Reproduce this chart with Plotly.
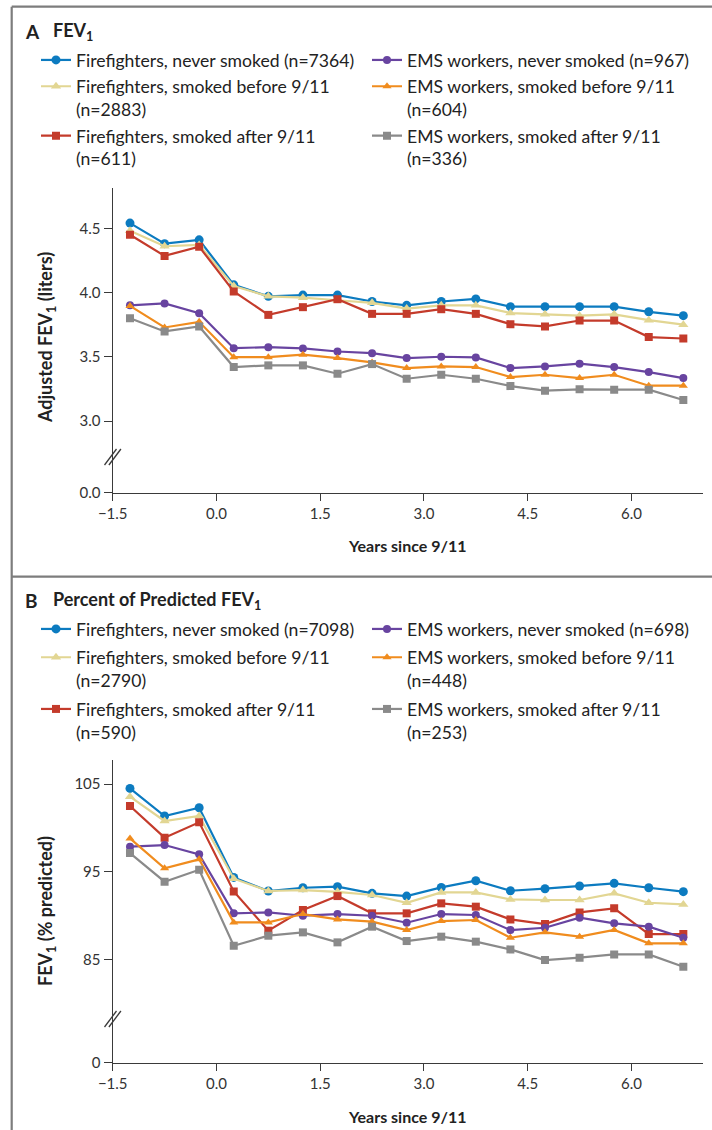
import plotly.graph_objects as go

W, H = 712, 1130
FONT = "Lato, 'Open Sans', 'DejaVu Sans', sans-serif"

def xp(px):
    return px / W

def yp(py):
    return 1 - py / H

# ---------------- data ----------------
years = [-1.25, -0.75, -0.25, 0.25, 0.75, 1.25, 1.75, 2.25, 2.75,
         3.25, 3.75, 4.25, 4.75, 5.25, 5.75, 6.25, 6.75]

series_names = ["Firefighters, never smoked",
                "Firefighters, smoked before 9/11",
                "Firefighters, smoked after 9/11",
                "EMS workers, never smoked",
                "EMS workers, smoked before 9/11",
                "EMS workers, smoked after 9/11"]

n_a = [7364, 2883, 611, 967, 604, 336]
n_b = [7098, 2790, 590, 698, 448, 253]

# Panel A: adjusted FEV1 (liters)
fev_ff_never = [4.54, 4.38, 4.41, 4.06, 3.97, 3.98, 3.98, 3.93, 3.90, 3.93, 3.95, 3.89, 3.89, 3.89, 3.89, 3.85, 3.82]
fev_ff_before = [4.48, 4.36, 4.37, 4.05, 3.97, 3.96, 3.94, 3.92, 3.875, 3.90, 3.90, 3.84, 3.83, 3.82, 3.83, 3.785, 3.75]
fev_ff_after = [4.45, 4.285, 4.357, 4.008, 3.826, 3.886, 3.948, 3.834, 3.834, 3.87, 3.834, 3.754, 3.736, 3.782, 3.782, 3.653, 3.642]
fev_ems_never = [3.90, 3.915, 3.839, 3.567, 3.575, 3.565, 3.541, 3.528, 3.49, 3.50, 3.495, 3.412, 3.425, 3.446, 3.42, 3.381, 3.334]
fev_ems_before = [3.896, 3.728, 3.772, 3.497, 3.497, 3.516, 3.49, 3.456, 3.412, 3.425, 3.42, 3.342, 3.36, 3.334, 3.36, 3.275, 3.275]
fev_ems_after = [3.80, 3.697, 3.736, 3.42, 3.433, 3.433, 3.368, 3.443, 3.329, 3.36, 3.329, 3.272, 3.236, 3.247, 3.244, 3.244, 3.163]

# Panel B: percent of predicted FEV1
pct_ff_never = [104.5, 101.35, 102.3, 94.35, 92.8, 93.17, 93.29, 92.53, 92.22, 93.21, 93.97, 92.83, 93.06, 93.37, 93.67, 93.17, 92.72]
pct_ff_before = [103.56, 100.78, 101.35, 94.2, 92.8, 92.9, 92.7, 92.34, 91.46, 92.64, 92.64, 91.84, 91.77, 91.77, 92.53, 91.46, 91.27]
pct_ff_after = [102.49, 98.88, 100.63, 92.75, 88.27, 90.63, 92.22, 90.25, 90.25, 91.39, 91.01, 89.56, 89.03, 90.36, 90.82, 87.89, 87.89]
pct_ems_never = [97.85, 98.04, 96.98, 90.25, 90.36, 89.98, 90.17, 89.98, 89.18, 90.17, 90.06, 88.35, 88.61, 89.75, 89.11, 88.73, 87.47]
pct_ems_before = [98.8, 95.38, 96.41, 89.22, 89.22, 90.17, 89.56, 89.3, 88.35, 89.37, 89.49, 87.47, 88.08, 87.59, 88.35, 86.83, 86.83]
pct_ems_after = [97.12, 93.86, 95.22, 86.56, 87.7, 88.08, 86.94, 88.73, 87.09, 87.59, 87.02, 86.14, 84.92, 85.19, 85.57, 85.57, 84.16]

x_ticks = [-1.5, 0.0, 1.5, 3.0, 4.5, 6.0]
a_ticks = [3.0, 3.5, 4.0, 4.5]
b_ticks = [85, 95, 105]

# ---------------- styles ----------------
colors = ["#0c7bc0", "#e2d693", "#c43b2b", "#6844a0", "#f08c1e", "#8a8a8a"]
symbols = ["circle", "triangle-up", "square", "circle", "triangle-up", "square"]
msizes = [9, 9, 8, 8, 8, 8]
# legend row for each series (never / before / after) and order within a row (FF first)
rows = [0, 1, 2, 0, 1, 2]
ranks = [1, 1, 1, 2, 2, 2]

fev_series = [fev_ff_never, fev_ff_before, fev_ff_after, fev_ems_never, fev_ems_before, fev_ems_after]
pct_series = [pct_ff_never, pct_ff_before, pct_ff_after, pct_ems_never, pct_ems_before, pct_ems_after]

legend_ids_a = ["legend", "legend2", "legend3"]
legend_ids_b = ["legend4", "legend5", "legend6"]


def label(name, n):
    if "never" in name:
        return f"{name} (n={n})"
    return f"{name}<br>(n={n})"


fig = go.Figure()
for i, name in enumerate(series_names):
    fig.add_trace(go.Scatter(
        x=years, y=fev_series[i], mode="lines+markers", name=label(name, n_a[i]),
        line=dict(color=colors[i], width=2.2),
        marker=dict(symbol=symbols[i], size=msizes[i], color=colors[i], line=dict(width=0)),
        xaxis="x", yaxis="y", legend=legend_ids_a[rows[i]], legendrank=ranks[i]))
for i, name in enumerate(series_names):
    fig.add_trace(go.Scatter(
        x=years, y=pct_series[i], mode="lines+markers", name=label(name, n_b[i]),
        line=dict(color=colors[i], width=2.2),
        marker=dict(symbol=symbols[i], size=msizes[i], color=colors[i], line=dict(width=0)),
        xaxis="x2", yaxis="y3", legend=legend_ids_b[rows[i]], legendrank=ranks[i]))

# empty traces so the lower (broken-axis) segments exist as subplots
fig.add_trace(go.Scatter(x=[], y=[], xaxis="x", yaxis="y2", showlegend=False, hoverinfo="skip"))
fig.add_trace(go.Scatter(x=[], y=[], xaxis="x2", yaxis="y4", showlegend=False, hoverinfo="skip"))

AX = "#3a3a3a"
tickfont = dict(family=FONT, size=15, color="#333333")

x_common = dict(range=[-1.5, 7.03], tickvals=x_ticks, tickformat=".1f",
                domain=[xp(112.7), xp(702.7)], showline=True, linecolor=AX, linewidth=1.4,
                ticks="outside", ticklen=7, tickwidth=1.4, tickcolor=AX,
                showgrid=False, zeroline=False, tickfont=tickfont, automargin=False)
y_common = dict(showline=True, linecolor=AX, linewidth=1.4, ticks="outside", ticklen=8,
                tickwidth=1.4, tickcolor=AX, showgrid=False, zeroline=False, tickfont=tickfont,
                automargin=False)

legend_common = dict(orientation="h", xanchor="left", yanchor="top", x=xp(36),
                     entrywidth=286, entrywidthmode="pixels", valign="top", itemwidth=30,
                     font=dict(family=FONT, size=17.6, color="#222222"), bgcolor="rgba(0,0,0,0)",
                     traceorder="normal")

# first-line centres of the legend rows (pixels from top)
row_centres_a = [61, 87.3, 136.7]
row_centres_b = [630, 658.3, 710]
legend_layout = {}
for lid, c in zip(legend_ids_a + legend_ids_b, row_centres_a + row_centres_b):
    legend_layout[lid] = dict(y=yp(c - 19), **legend_common)

fig.update_layout(
    width=W, height=H, margin=dict(l=0, r=0, t=0, b=0, pad=0, autoexpand=False),
    paper_bgcolor="white", plot_bgcolor="rgba(0,0,0,0)",
    font=dict(family=FONT, color="#222222"),
    xaxis=dict(anchor="y2", **x_common),
    yaxis=dict(anchor="x", domain=[yp(457), yp(188.3)], range=[2.72, 4.811],
               tickvals=a_ticks, tickformat=".1f", **y_common),
    yaxis2=dict(anchor="x", domain=[yp(492.7), yp(457)], range=[0, 1],
                tickvals=[0], ticktext=["0.0"], **y_common),
    xaxis2=dict(anchor="y4", **x_common),
    yaxis3=dict(anchor="x2", domain=[yp(1019), yp(760)], range=[78.2, 107.74],
                tickvals=b_ticks, **y_common),
    yaxis4=dict(anchor="x2", domain=[yp(1062.7), yp(1019)], range=[0, 1],
                tickvals=[0], ticktext=["0"], **y_common),
    **legend_layout,
)

annotations = [
    dict(text="<b>A</b>", x=xp(23), y=yp(31.7), xanchor="left", yanchor="middle", font=dict(size=19)),
    dict(text="<b>FEV<sub>1</sub></b>", x=xp(51), y=yp(31.7), xanchor="left", yanchor="middle", font=dict(size=18)),
    dict(text="<b>B</b>", x=xp(23), y=yp(600), xanchor="left", yanchor="middle", font=dict(size=19)),
    dict(text="<b>Percent of Predicted FEV<sub>1</sub></b>", x=xp(51), y=yp(600), xanchor="left", yanchor="middle", font=dict(size=18)),
    dict(text="<b>Adjusted FEV<sub>1</sub> (liters)</b>", x=xp(46), y=yp(338), textangle=-90,
         xanchor="center", yanchor="middle", font=dict(size=18)),
    dict(text="<b>FEV<sub>1</sub> (% predicted)</b>", x=xp(46), y=yp(911), textangle=-90,
         xanchor="center", yanchor="middle", font=dict(size=18)),
    dict(text="<b>Years since 9/11</b>", x=xp(407.7), y=yp(545), xanchor="center", yanchor="middle", font=dict(size=16)),
    dict(text="<b>Years since 9/11</b>", x=xp(407.7), y=yp(1116.7), xanchor="center", yanchor="middle", font=dict(size=16)),
]
for a in annotations:
    a.update(xref="paper", yref="paper", showarrow=False)
    a["font"] = dict(family=FONT, color="#222222", **a["font"])
fig.update_layout(annotations=annotations)

shapes = []
BORDER = "#7d7d7d"
for (x0, y0, x1, y1) in [(11.7, 6.7, 712, 6.7), (11.7, 6.7, 11.7, 1130), (11.7, 576.7, 712, 576.7)]:
    shapes.append(dict(type="line", xref="paper", yref="paper", x0=xp(x0), y0=yp(y0), x1=xp(x1), y1=yp(y1),
                       line=dict(color=BORDER, width=2.2)))


def break_marks(cx, cy):
    out = []
    for dx in (-2.2, 2.2):
        out.append(dict(type="line", xref="paper", yref="paper",
                        x0=xp(cx + dx - 6), y0=yp(cy + 8), x1=xp(cx + dx + 6), y1=yp(cy - 8),
                        line=dict(color=AX, width=1.3)))
    return out


shapes += break_marks(112.7, 457)
shapes += break_marks(112.7, 1019)
fig.update_layout(shapes=shapes)

fig.write_html("out.html")
